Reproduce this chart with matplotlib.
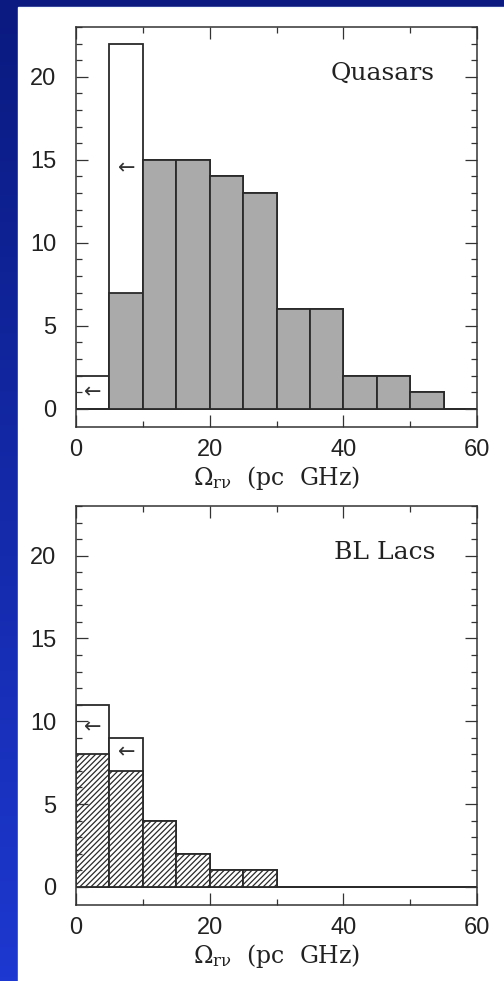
import numpy as np
import matplotlib.pyplot as plt
from matplotlib.colors import LinearSegmentedColormap
from matplotlib.patches import Rectangle

plt.rcParams['mathtext.fontset'] = 'dejavuserif'
plt.rcParams['hatch.linewidth'] = 0.9

# bin edges (left) for both panels, width 5 pc GHz
bin_left = [0, 5, 10, 15, 20, 25, 30, 35, 40, 45, 50, 55]

# quasars: measured values and upper limits (total incl. limits)
qso_measured = [0, 7, 15, 15, 14, 13, 6, 6, 2, 2, 1, 0]
qso_total = [2, 22, 15, 15, 14, 13, 6, 6, 2, 2, 1, 0]

# BL Lacs
bll_measured = [8, 7, 4, 2, 1, 1, 0, 0, 0, 0, 0, 0]
bll_total = [11, 9, 4, 2, 1, 1, 0, 0, 0, 0, 0, 0]

# arrows marking upper-limit bins (x, y)
qso_arrows = [(2.5, 1.0), (7.6, 14.5)]
bll_arrows = [(2.5, 9.6), (7.6, 8.1)]

xlabel = r'$\Omega_{\rm r\nu}$  (pc  GHz)'
edge = '#2a2a2a'

fig = plt.figure(figsize=(5.04, 9.81), dpi=100)

# slide background: blue gradient with a white panel
bg = fig.add_axes([0, 0, 1, 1], zorder=-10)
cmap = LinearSegmentedColormap.from_list('slide', ['#0a1a80', '#1d38d0'])
grad = np.linspace(0, 1, 256).reshape(-1, 1)
bg.imshow(grad, cmap=cmap, aspect='auto', extent=[0, 1, 0, 1], origin='upper')
bg.add_patch(Rectangle((18 / 504, 0), 1, 1 - 7 / 981, color='white'))
bg.set_xlim(0, 1)
bg.set_ylim(0, 1)
bg.axis('off')


def panel(ax, measured, total, arrows, name, hatch):
    ax.bar(bin_left, total, width=5, align='edge', color='white',
           edgecolor=edge, linewidth=1.3)
    if hatch:
        ax.bar(bin_left, measured, width=5, align='edge', color='white',
               edgecolor=edge, linewidth=1.3, hatch='//////')
    else:
        ax.bar(bin_left, measured, width=5, align='edge', color='#aaaaaa',
               edgecolor=edge, linewidth=1.3)
    for x, y in arrows:
        ax.text(x, y, '\u2190', ha='center', va='center', fontsize=15,
                color='#333333')
    ax.text(53.7, 20.2, name, ha='right', va='center', fontsize=18,
            family='DejaVu Serif', color='#222222')
    ax.set_xlim(0, 60)
    ax.set_ylim(-1.1, 23)
    ax.set_xticks([0, 20, 40, 60])
    ax.set_xticks(range(0, 61, 10), minor=True)
    ax.set_yticks([0, 5, 10, 15, 20])
    ax.set_yticks(range(0, 24), minor=True)
    ax.tick_params(which='both', direction='in', top=True, right=True,
                   color='#333333', width=0.9)
    ax.tick_params(which='major', length=8.6)
    ax.tick_params(which='minor', length=4.3)
    ax.tick_params(axis='x', pad=9)
    ax.tick_params(axis='y', pad=14)
    for lab in ax.get_xticklabels() + ax.get_yticklabels():
        lab.set_fontfamily('Liberation Sans')
        lab.set_fontsize(17)
        lab.set_color('#222222')
    for s in ax.spines.values():
        s.set_color('#333333')
        s.set_linewidth(1.1)
    ax.set_xlabel(xlabel, fontsize=17, family='DejaVu Serif',
                  color='#222222', labelpad=2)


ax1 = fig.add_axes([76 / 504, 1 - 427 / 981, 401 / 504, 400 / 981])
panel(ax1, qso_measured, qso_total, qso_arrows, 'Quasars', False)

ax2 = fig.add_axes([76 / 504, 1 - 905 / 981, 401 / 504, 399 / 981])
panel(ax2, bll_measured, bll_total, bll_arrows, 'BL Lacs', True)

fig.savefig('out.png', dpi=100)
